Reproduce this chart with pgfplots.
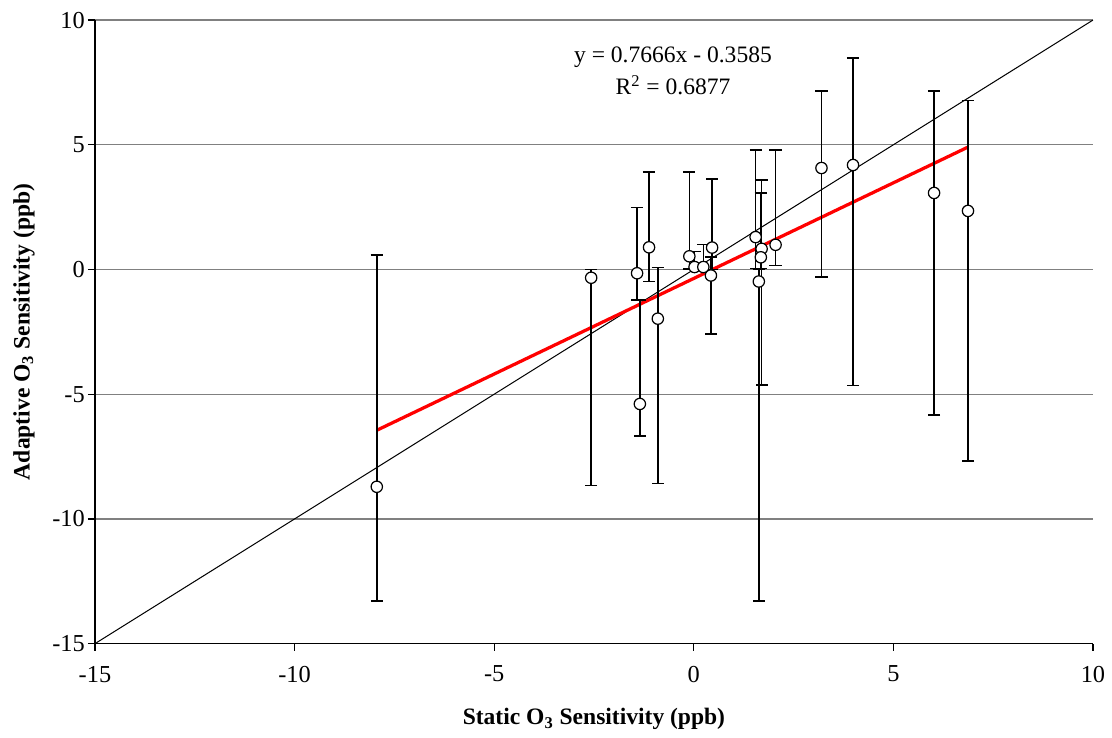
\documentclass[border=0pt]{standalone}
\usepackage{pgfplots}
\pgfplotsset{compat=1.18}
\usepackage{pgfplotstable}
\usepackage{fontspec}
\setmainfont{Liberation Serif}

\pgfplotstableread{
x y ep em
-7.94 -8.71 9.29 4.57
-2.57 -0.33 0.34 8.33
-1.42 -0.15 2.63 1.07
-1.12 0.89 3.03 1.37
-0.90 -1.97 2.05 6.61
-1.35 -5.39 4.17 1.29
-0.11 0.53 3.39 0.51
0.02 0.10 0.62 0.08
0.24 0.10 0.91 0.08
0.46 0.88 2.74 0.88
0.43 -0.24 0.74 2.35
1.55 1.30 3.49 1.25
1.70 0.83 2.76 5.46
1.68 0.49 2.57 0.44
1.63 -0.48 0.48 12.80
2.05 0.99 3.80 0.83
3.20 4.07 3.09 4.38
3.99 4.19 4.30 8.84
6.02 3.07 4.09 8.90
6.87 2.35 4.42 10.03
}\datatable

\begin{document}
\begin{tikzpicture}
\begin{axis}[
  scale only axis,
  width=491.8pt, height=307.3pt,
  xmin=-15, xmax=10, ymin=-15, ymax=10,
  xtick={-15,-10,-5,0,5,10},
  ytick={-15,-10,-5,0,5,10},
  axis x line*=bottom, axis y line*=left,
  axis line style={black, line width=0.8pt},
  ymajorgrids, grid style={gray, line width=0.6pt},
  tick style={black, line width=0.6pt},
  tick align=outside, major tick length=3.5pt,
  xtick pos=bottom, ytick pos=left,
  tick label style={font=\fontsize{12}{14}\selectfont},
  xticklabel style={yshift=-4pt},
  yticklabel style={xshift=2pt},
  /pgf/number format/assume math mode=true,
  xlabel={\textbf{Static O\textsubscript{3} Sensitivity (ppb)}},
  ylabel={\textbf{Adaptive O\textsubscript{3} Sensitivity (ppb)}},
  label style={font=\fontsize{11.6}{13}\selectfont},
  xlabel style={yshift=-6pt},
  ylabel style={at={(axis description cs:0,0.5)}, anchor=center, yshift=35pt},
  clip=false,
]
\path (rel axis cs:0,0) -- ++(-46.8pt,-46.3pt);
\path (rel axis cs:1,1) -- ++(9.4pt,9.9pt);
\addplot[black, line width=0.5pt, no marks] coordinates {(-15,-15) (10,10)};
\addplot[red, line width=1.6pt, no marks] coordinates {(-7.94,-6.445) (6.87,4.908)};
\addplot[only marks, mark=*, mark size=2.8pt, mark options={fill=white, draw=black, line width=0.6pt},
  error bars/.cd, y dir=both, y explicit,
  error bar style={black, line width=0.75pt},
  error mark options={rotate=90, mark size=3pt, line width=0.75pt}]
  table[x=x, y=y, y error plus=ep, y error minus=em] {\datatable};
\node[align=center, font=\fontsize{11.6}{15.8}\selectfont] at (axis cs:-0.52,7.95) {y = 0.7666x - 0.3585\\R\textsuperscript{2} = 0.6877};
\end{axis}
\end{tikzpicture}
\end{document}
